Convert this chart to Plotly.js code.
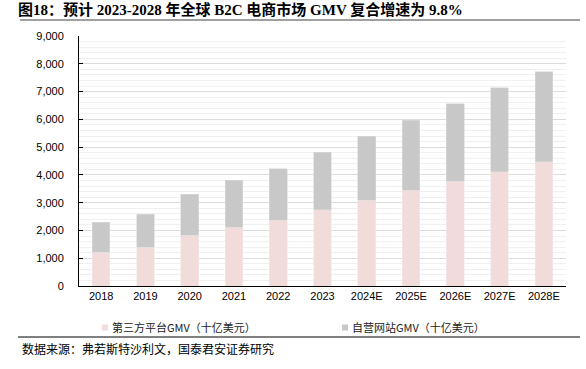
<!DOCTYPE html>
<html>
<head>
<meta charset="utf-8">
<script src="https://cdn.plot.ly/plotly-3.0.1.min.js"></script>
<style>html,body{margin:0;padding:0;background:#fff;}#chart{width:586px;height:369px;}</style>
</head>
<body>
<div id="chart"></div>
<script>
const years = ["2018","2019","2020","2021","2022","2023","2024E","2025E","2026E","2027E","2028E"];
const platformGMV = [1220,1400,1820,2120,2360,2750,3090,3440,3780,4120,4470];
const selfSiteGMV = [1070,1180,1490,1680,1860,2060,2300,2530,2780,3010,3240];
const seriesNames = ["第三方平台GMV（十亿美元）","自营网站GMV（十亿美元）"];
const yTicks = [0,1000,2000,3000,4000,5000,6000,7000,8000,9000];

const fontCJK = "Liberation Sans, Noto Sans CJK SC, sans-serif";
const traces = [
  {type:"bar", x:years, y:platformGMV, name:seriesNames[0],
   marker:{color:"#F2DCDB", line:{color:"#F7E8E8", width:0.6}}},
  {type:"bar", x:years, y:selfSiteGMV, name:seriesNames[1],
   marker:{color:"#C8C8C8", line:{color:"#DADADA", width:0.6}}}
];
const layout = {
  width:586, height:369,
  margin:{l:79, r:20, t:36, b:83},
  barmode:"stack", bargap:0.6,
  paper_bgcolor:"#fff", plot_bgcolor:"#fff",
  font:{family:fontCJK, size:11, color:"#000"},
  title:{text:"<b>图18：预计 2023-2028 年全球 B2C 电商市场 GMV 复合增速为 9.8%</b>",
    font:{family:"Liberation Serif, Noto Sans CJK SC, serif", size:15, color:"#000"},
    xref:"container", x:18/586, xanchor:"left", yref:"container", y:1-10/369, yanchor:"middle"},
  xaxis:{type:"category", showline:true, linecolor:"#000", linewidth:1, ticks:"", showgrid:false,
    tickfont:{size:11, color:"#000"}, fixedrange:true, automargin:false},
  yaxis:{range:[0,9000], tickvals:yTicks, tickformat:",d", showline:true, linecolor:"#000", linewidth:1,
    ticks:"inside", ticklen:4, tickcolor:"#000", showgrid:true, gridcolor:"#DCDCDC", gridwidth:1,
    minor:{dtick:200, showgrid:true, gridcolor:"#F0F0F0", gridwidth:1},
    zeroline:false, tickfont:{size:11, color:"#000"}, ticklabelstandoff:12, automargin:false},
  legend:{orientation:"h", xref:"container", x:72/586, xanchor:"left",
    yref:"container", y:(369-313)/369, yanchor:"top", bgcolor:"rgba(0,0,0,0)",
    font:{family:"Noto Sans CJK SC, sans-serif", size:11, color:"#222"},
    entrywidth:195, entrywidthmode:"pixels", itemwidth:30, traceorder:"normal"},
  shapes:[
    {type:"line", xref:"paper", yref:"paper", x0:(20-79)/487, x1:(580-79)/487, y0:(286-20)/250, y1:(286-20)/250,
     line:{color:"#808080", width:1.5}},
    {type:"line", xref:"paper", yref:"paper", x0:(18-79)/487, x1:(580-79)/487, y0:(286-337)/250, y1:(286-337)/250,
     line:{color:"#000", width:1}}
  ],
  annotations:[
    {text:"数据来源：弗若斯特沙利文，国泰君安证券研究", xref:"paper", yref:"paper",
     x:(20-79)/487, xanchor:"left", y:(286-348)/250, yanchor:"middle", showarrow:false,
     font:{family:"Noto Sans CJK SC, sans-serif", size:12, color:"#000"}}
  ]
};
Plotly.newPlot("chart", traces, layout, {displayModeBar:false, staticPlot:true}).then(function(gd){
  // smaller legend swatches placed next to the text, as in the reference
  gd.querySelectorAll(".legendpoints path").forEach(function(p){
    p.setAttribute("d", "M16,3H10V-3H16Z");
    p.style.strokeWidth = "0";
  });
});
</script>
</body>
</html>
